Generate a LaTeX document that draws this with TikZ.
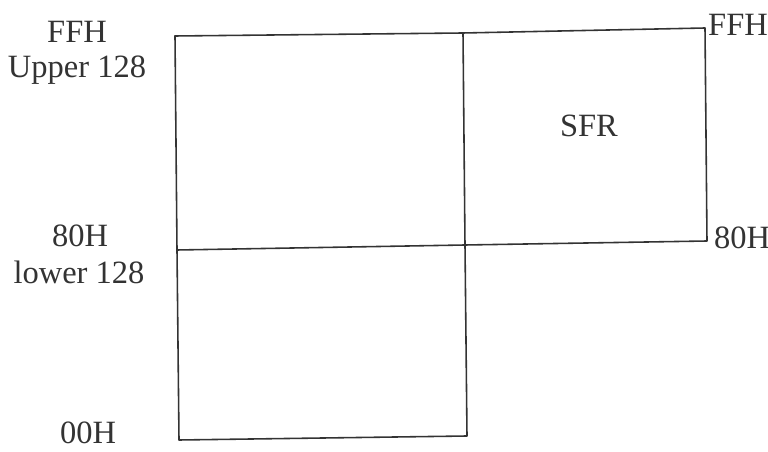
\documentclass[tikz,border=0pt]{standalone}
\usepackage{fontspec}
\setmainfont{Liberation Serif}
\usetikzlibrary{positioning}

\begin{document}
\begin{tikzpicture}[
x=0.02cm, y=-0.02cm,
lbl/.style={font=\fontsize{18.5}{20}\selectfont, text=black!80, inner sep=1pt},
wall/.style={line width=0.9pt, draw=black!80, line cap=round, line join=round} ]

\useasboundingbox (0,0) rectangle (768,452);

% corners of the memory blocks
\coordinate (ul) at (175,36);
\coordinate (um) at (463,33);
\coordinate (ur) at (705,28);
\coordinate (ml) at (177,250);
\coordinate (mm) at (465,245);
\coordinate (mr) at (707,241);
\coordinate (bl) at (179,440);
\coordinate (bm) at (467,436);

\draw[wall] (ul) -- (um) -- (ur) -- (mr) -- (mm) -- (ml);
\draw[wall] (ul) -- (ml) -- (bl) -- (bm) -- (mm) -- (um);

\node[lbl](ffhl) at (77,32) {FFH};
\node[lbl](upper) at (77,70) {Upper 128};
\node[lbl](eightl) at (80,236) {80H};
\node[lbl](lower) at (79,272) {lower 128};
\node[lbl](zero) at (88,433) {00H};

\node[lbl](ffhr) at (738,25) {FFH};
\node[lbl](eightr) at (742,238) {80H};
\node[lbl](sfr) at (589,126) {SFR};
\end{tikzpicture}
\end{document}
